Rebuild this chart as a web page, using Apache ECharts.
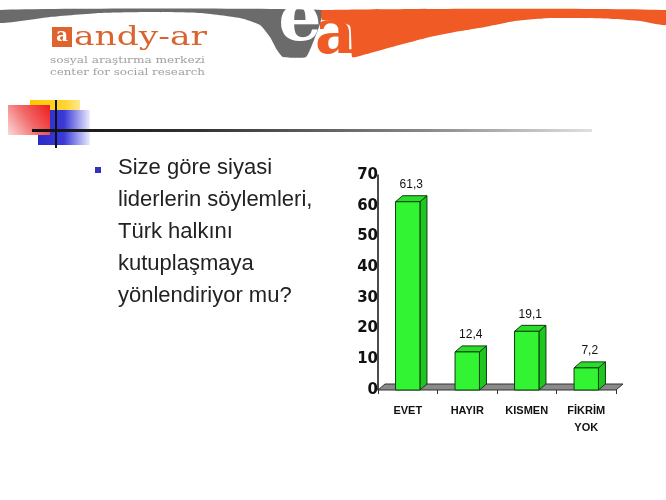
<!DOCTYPE html>
<html>
<head>
<meta charset="utf-8">
<script src="https://cdn.jsdelivr.net/npm/echarts@6/dist/echarts.min.js"></script>
<style>
html,body{margin:0;padding:0;background:#fff;}
#chart{width:666px;height:500px;}
</style>
</head>
<body>
<div id="chart"></div>
<script>
// ---- data ----
const categories = ['EVET', 'HAYIR', 'KISMEN', 'FİKRİM\nYOK'];
const values = [61.3, 12.4, 19.1, 7.2];
const yMin = 0, yMax = 70, yStep = 10;
const questionLines = ['Size göre siyasi', 'liderlerin söylemleri,', 'Türk halkını', 'kutuplaşmaya', 'yönlendiriyor mu?'];
const logoName = 'andy-ar';
const logoSub1 = 'sosyal araştırma merkezi';
const logoSub2 = 'center for social research';

// ---- styling ----
const DX = 7, DY = 6;
const GREEN_FRONT = '#33f433', GREEN_SIDE = '#1fc61f', GREEN_TOP = '#28de28', EDGE = '#0d3d0d';

const chart = echarts.init(document.getElementById('chart'), null, {renderer: 'canvas'});

function fmt(v) { return String(v).replace('.', ','); }

const measureCtx = document.createElement('canvas').getContext('2d');
function fitScale(text, font, target) {
  measureCtx.font = font;
  const w = measureCtx.measureText(text).width || target;
  return target / w;
}

const grayShape = [[0,10],[322,10],[320,24],[314,40],[306,57],[283,57],[277,50],[270,37],[260,25],[240,18],[200,13],[150,12],[100,13],[50,17],[0,23]];
const orangeShape = [[322,10],[666,10],[666,25],[640,21],[615,19],[580,18],[550,18],[515,21],[485,27],[455,32],[430,37],[392,47],[356,57],[352,57],[350,26],[336,21],[322,20]];

const LOGO_FONT = '26px "DejaVu Serif"';
const SUB_FONT = '10px "DejaVu Serif"';

const option = {
  backgroundColor: '#ffffff',
  animation: false,
  title: {
    text: questionLines.join('\n'),
    left: 118, top: 152, padding: 0,
    textStyle: {fontFamily: 'Liberation Sans', fontSize: 22, lineHeight: 32, fontWeight: 'normal', color: '#222'}
  },
  grid: {left: 378, right: 50, top: 175, bottom: 110, containLabel: false},
  xAxis: {
    type: 'category', data: categories,
    axisLine: {show: false},
    axisTick: {show: true, length: 4, lineStyle: {color: '#333', width: 1}},
    axisLabel: {fontFamily: 'Liberation Sans', fontSize: 11, fontWeight: 'bold', color: '#111', margin: 12, lineHeight: 17}
  },
  yAxis: {
    type: 'value', min: yMin, max: yMax, interval: yStep,
    axisLine: {show: true, lineStyle: {color: '#111', width: 1.5}},
    axisTick: {show: false},
    splitLine: {show: false},
    axisLabel: {fontFamily: 'DejaVu Sans', fontSize: 15, fontWeight: 'bold', color: '#111', margin: 0}
  },
  series: [
    {
      type: 'custom', name: 'floor', z: 1,
      data: [[0, 0]],
      renderItem: function (params, api) {
        const bw = api.size([1, 0])[0];
        const a = api.coord([0, 0]);
        const b = api.coord([categories.length - 1, 0]);
        const l = a[0] - bw / 2, r = b[0] + bw / 2, y = a[1];
        return {
          type: 'polygon',
          shape: {points: [[l, y], [r, y], [r + DX, y - DY], [l + DX, y - DY]]},
          style: {fill: '#8a8a8a', stroke: '#333', lineWidth: 1}
        };
      }
    },
    {
      type: 'custom', name: 'bars', z: 3,
      data: values.map((v, i) => [i, v]),
      renderItem: function (params, api) {
        const idx = api.value(0), v = api.value(1);
        const base = api.coord([idx, 0]);
        const top = api.coord([idx, v]);
        const bw = api.size([1, 0])[0];
        const w = bw * 0.41;
        const x0 = base[0] - w / 2, x1 = base[0] + w / 2;
        const yb = base[1], yt = top[1];
        return {
          type: 'group',
          children: [
            {type: 'polygon', shape: {points: [[x1, yb], [x1 + DX, yb - DY], [x1 + DX, yt - DY], [x1, yt]]},
              style: {fill: GREEN_SIDE, stroke: EDGE, lineWidth: 1}},
            {type: 'polygon', shape: {points: [[x0, yt], [x1, yt], [x1 + DX, yt - DY], [x0 + DX, yt - DY]]},
              style: {fill: GREEN_TOP, stroke: EDGE, lineWidth: 1}},
            {type: 'rect', shape: {x: x0, y: yt, width: w, height: yb - yt},
              style: {fill: GREEN_FRONT, stroke: EDGE, lineWidth: 1}},
            {type: 'text', style: {text: fmt(v), x: (x0 + x1 + DX) / 2, y: yt - DY - 5,
              align: 'center', verticalAlign: 'bottom', font: '12px "Liberation Sans"', fill: '#111'}}
          ]
        };
      }
    }
  ],
  graphic: [
    // gray swoosh with white "e"
    {type: 'polygon', z: 0, shape: {points: grayShape, smooth: 0.15}, style: {fill: '#6b6b6b'}},
    {type: 'text', z: 1, style: {text: 'e', x: 300, y: 22, align: 'center', verticalAlign: 'middle', font: 'bold 68px "DejaVu Serif"', fill: '#ffffff'}},
    // orange swoosh with orange "a"
    {type: 'polygon', z: 0, shape: {points: orangeShape, smooth: 0.15}, style: {fill: '#f05a24'}},
    {type: 'text', z: 2, style: {text: 'a', x: 335, y: 37, align: 'center', verticalAlign: 'middle', font: 'bold 62px "DejaVu Serif"', fill: '#f05a24'}},
    // logo
    {type: 'rect', shape: {x: 52, y: 27, width: 20, height: 20}, style: {fill: '#e0622e'}},
    {type: 'text', style: {text: 'a', x: 62, y: 36, align: 'center', verticalAlign: 'middle', font: 'bold 18px "DejaVu Serif"', fill: '#ffffff'}},
    {type: 'text', x: 74, y: 38, scaleX: fitScale(logoName, LOGO_FONT, 133),
      style: {text: logoName, x: 0, y: 0, align: 'left', verticalAlign: 'middle', font: LOGO_FONT, fill: '#d9642f'}},
    {type: 'text', x: 50, y: 60, scaleX: fitScale(logoSub1, SUB_FONT, 155),
      style: {text: logoSub1, x: 0, y: 0, align: 'left', verticalAlign: 'middle', font: SUB_FONT, fill: '#a0a0a0'}},
    {type: 'text', x: 50, y: 72, scaleX: fitScale(logoSub2, SUB_FONT, 155),
      style: {text: logoSub2, x: 0, y: 0, align: 'left', verticalAlign: 'middle', font: SUB_FONT, fill: '#a0a0a0'}},
    // decorative squares
    {type: 'rect', shape: {x: 30, y: 100, width: 50, height: 25},
      style: {fill: new echarts.graphic.LinearGradient(0, 0, 1, 0, [{offset: 0, color: '#ffc800'}, {offset: 0.7, color: '#ffd430'}, {offset: 1, color: '#ffe890'}])}},
    {type: 'rect', shape: {x: 38, y: 110, width: 52, height: 35},
      style: {fill: new echarts.graphic.LinearGradient(0, 0, 1, 0, [{offset: 0, color: '#2a2ac8'}, {offset: 0.5, color: '#3a3ad8'}, {offset: 1, color: '#ececff'}])}},
    {type: 'rect', shape: {x: 8, y: 105, width: 42, height: 30},
      style: {fill: new echarts.graphic.LinearGradient(1, 0, 0, 1, [{offset: 0, color: '#ee1c1c'}, {offset: 0.5, color: '#f26a6a'}, {offset: 1, color: '#fbd9d9'}])}},
    {type: 'rect', shape: {x: 32, y: 129, width: 560, height: 3},
      style: {fill: new echarts.graphic.LinearGradient(0, 0, 1, 0, [{offset: 0, color: '#111'}, {offset: 0.3, color: '#333'}, {offset: 0.7, color: '#888'}, {offset: 1, color: '#e0e0e0'}])}},
    {type: 'rect', shape: {x: 55, y: 100, width: 2, height: 48}, style: {fill: '#111'}},
    // bullet
    {type: 'rect', shape: {x: 95, y: 167, width: 6, height: 6}, style: {fill: '#3434b4'}}
  ]
};
chart.setOption(option);
</script>
</body>
</html>
